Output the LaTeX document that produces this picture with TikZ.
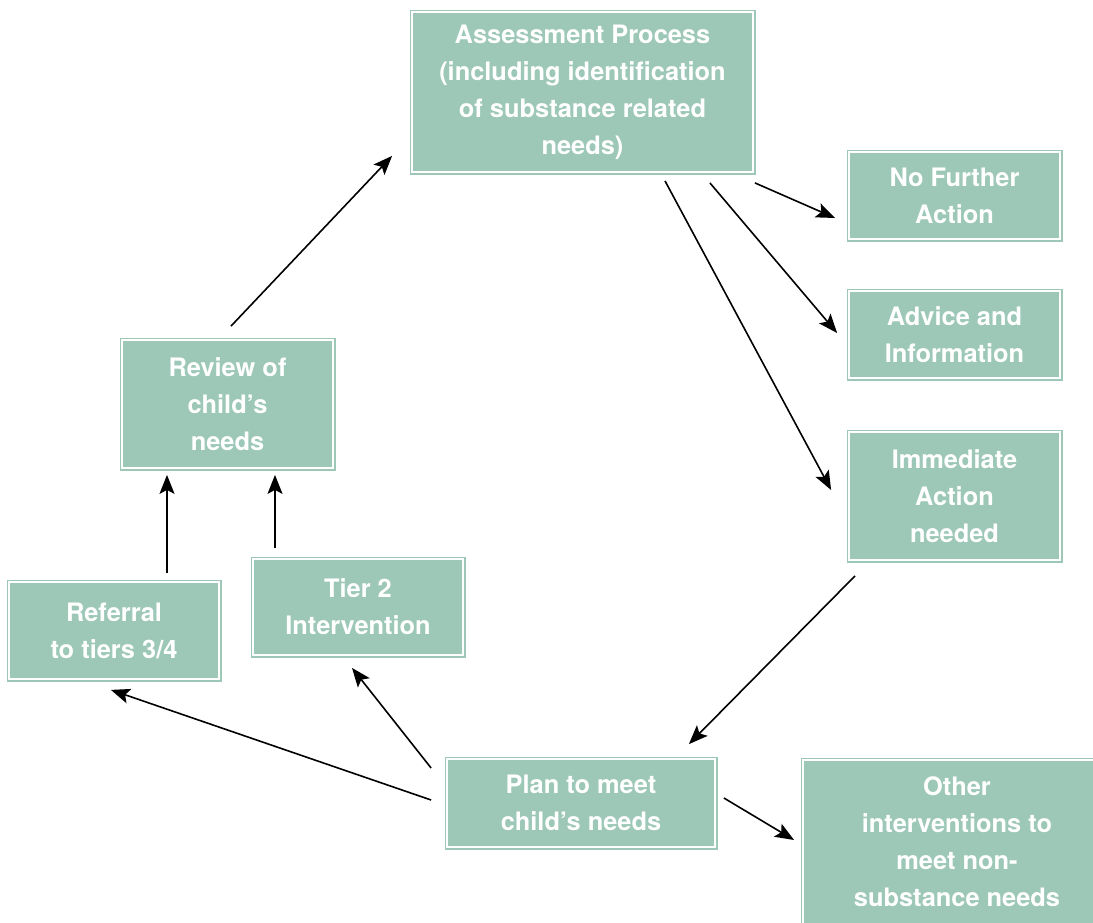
\documentclass[tikz,border=0pt]{standalone}
\usepackage{fontspec}
\setmainfont{TeX Gyre Heros}
\usetikzlibrary{arrows.meta,calc}
\definecolor{boxgreen}{RGB}{157,200,184}
\begin{document}
\begin{tikzpicture}[x=0.5pt,y=-0.5pt,
        box/.style={fill=boxgreen, draw=boxgreen, double=white, double distance=0.7pt,
            line width=0.9pt, inner sep=0pt, align=center, text=white,
            font=\fontsize{12.7}{18.5}\selectfont\bfseries},
        link/.style={-{Stealth[length=9.5pt,width=7.5pt,inset=2pt]}, line width=0.8pt}]
    \useasboundingbox (0,0) rectangle (1093,922);
    \node[box, minimum width=170.5pt, minimum height=80pt] (assess) at (582.5,92)
        {Assessment Process\\(including identification\\of substance related\\needs)};
    \node[box, minimum width=105.5pt, minimum height=43.5pt] (nofurther) at (954.5,195.5)
        {No Further\\Action};
    \node[box, minimum width=105.5pt, minimum height=43.5pt] (advice) at (954.5,334.5)
        {Advice and\\Information};
    \node[box, minimum width=105.5pt, minimum height=64pt] (immediate) at (954.5,496)
        {Immediate\\Action\\needed};
    \node[box, minimum width=105.5pt, minimum height=64pt] (review) at (227.5,404)
        {Review of\\child's\\needs};
    \node[box, minimum width=105pt, minimum height=48pt] (tier) at (358,607)
        {Tier 2\\Intervention};
    \node[box, minimum width=105pt, minimum height=48.5pt] (referral) at (114,630.5)
        {Referral\\to tiers 3/4};
    \node[box, minimum width=134pt, minimum height=44pt] (plan) at (581,803)
        {Plan to meet\\child's needs};
    \node[box, minimum width=154pt, minimum height=82pt] (other) at (957,842)
        {Other\\interventions to\\meet non-\\substance needs};

    \draw[link] ($(review.north)+(3.5,-13)$) -- ($(assess.south west)+(-19,-17)$);
    \draw[link] ($(assess.south east)+(1,10)$) -- ($(nofurther.west)+(-13,22.5)$);
    \draw[link] ($(assess.south east)+(-44,10)$) -- ($(advice.west)+(-11,-1.5)$);
    \draw[link] ($(assess.south)+(82.5,8)$) -- ($(immediate.west)+(-17,-6)$);
    \draw[link] ($(immediate.south)+(-99.5,15)$) -- ($(plan.north east)+(-27,-14)$);
    \draw[link] ($(plan.west)+(-15,-35)$) -- ($(tier.south)+(-6,12)$);
    \draw[link] ($(plan.west)+(-15,-3)$) -- ($(referral.south east)+(-109,10)$);
    \draw[link] ($(plan.east)+(8,-5)$) -- ($(other.west)+(-8,-2)$);
    \draw[link] ($(referral.north)+(53,-8)$) -- ($(review.south)+(-60.5,6)$);
    \draw[link] ($(tier.north)+(-83,-10)$) -- ($(review.south)+(47.5,6)$);
\end{tikzpicture}
\end{document}
